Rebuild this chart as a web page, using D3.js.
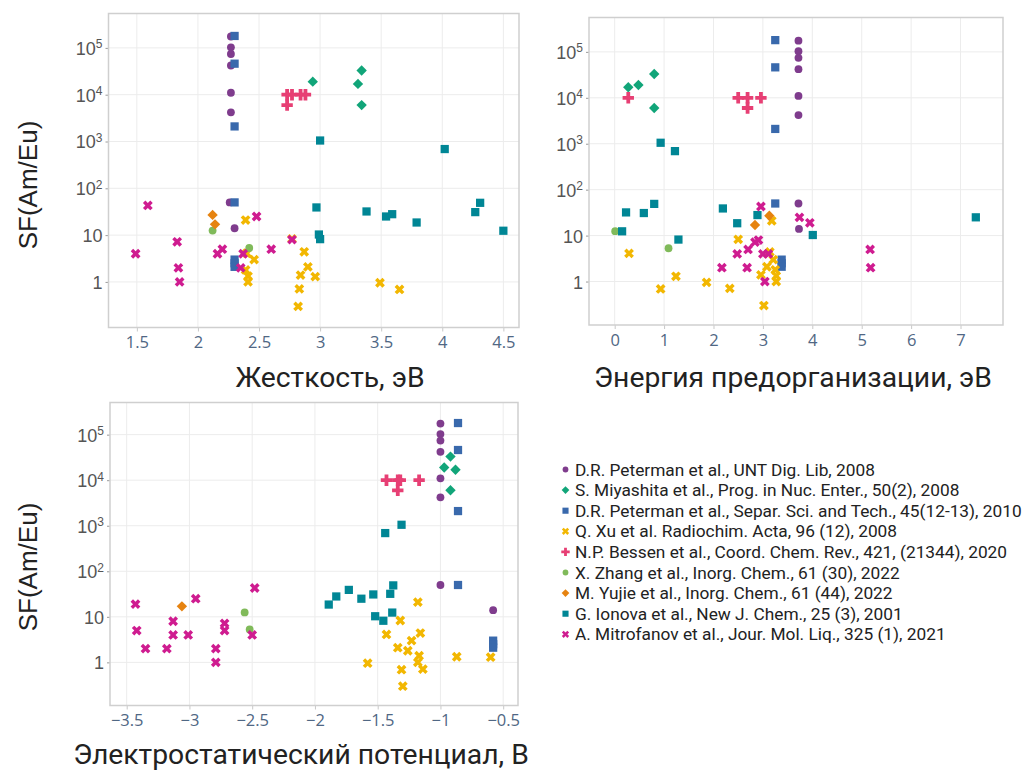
<!DOCTYPE html>
<html><head><meta charset="utf-8">
<script src="https://cdn.jsdelivr.net/npm/d3@7"></script>
<style>
body{margin:0;background:#fff}
svg{display:block}
</style>
</head><body>
<svg id="fig" width="1026" height="771"></svg>
<script>
// ---- series (one per literature source) ----
const seriesNames = [
  "D.R. Peterman et al., UNT Dig. Lib, 2008",
  "S. Miyashita et al., Prog. in Nuc. Enter., 50(2), 2008",
  "D.R. Peterman et al., Separ. Sci. and Tech., 45(12-13), 2010",
  "Q. Xu et al. Radiochim. Acta, 96 (12), 2008",
  "N.P. Bessen et al., Coord. Chem. Rev., 421, (21344), 2020",
  "X. Zhang et al., Inorg. Chem., 61 (30), 2022",
  "M. Yujie et al., Inorg. Chem., 61 (44), 2022",
  "G. Ionova et al., New J. Chem., 25 (3), 2001",
  "A. Mitrofanov et al., Jour. Mol. Liq., 325 (1), 2021"
];
const seriesColors = [
  "rgb(127,60,141)", "rgb(17,165,121)", "rgb(57,105,172)",
  "rgb(242,183,1)", "rgb(231,63,116)", "rgb(128,186,90)",
  "rgb(230,131,16)", "rgb(0,134,149)", "rgb(207,28,144)"
];
const seriesSymbols = ["circle","diamond","square","x","cross","circle","diamond","square","x"];

// rows: [SF(Am/Eu), hardness eV, preorganisation energy eV, electrostatic potential V]
const peterman2008 = [
  [1.75e5, 2.27, 3.72, -1.0], [1.03e5, 2.27, 3.72, -1.0], [7.4e4, 2.27, 3.72, -1.0],
  [4.2e4, 2.27, 3.72, -1.0], [1.1e4, 2.27, 3.72, -1.0], [4.2e3, 2.27, 3.72, -1.0],
  [50, 2.26, 3.72, -1.0], [14, 2.30, 3.73, -0.58]
];
const miyashita2008 = [
  [1.9e4, 2.94, 0.48, -0.97], [3.3e4, 3.34, 0.80, -0.92],
  [1.7e4, 3.31, 0.275, -0.88], [6.0e3, 3.34, 0.80, -0.92]
];
const peterman2010 = [
  [1.8e5, 2.30, 3.25, -0.86], [4.6e4, 2.30, 3.25, -0.86], [2.1e3, 2.30, 3.25, -0.86],
  [50, 2.30, 3.25, -0.86], [3.0, 2.30, 3.38, -0.58], [2.5, 2.30, 3.38, -0.58],
  [2.1, 2.30, 3.38, -0.58]
];
const xu2008 = [
  [21, 2.39, 3.18, -1.18], [8.3, 2.77, 2.50, -1.32], [4.4, 2.87, 3.14, -1.16],
  [4.1, 2.40, 0.29, -1.43], [3.0, 2.46, 3.21, -1.23], [2.1, 2.90, 3.08, -1.34],
  [1.8, 2.39, 3.25, -1.26], [1.4, 2.84, 2.96, -1.17], [1.33, 2.41, 3.27, -0.87],
  [1.3, 2.96, 1.24, -0.60], [1.0, 2.41, 3.27, -1.18], [0.96, 3.49, 1.86, -1.58],
  [0.71, 2.83, 2.33, -1.14], [0.69, 3.65, 0.93, -1.31], [0.30, 2.82, 3.02, -1.30]
];
const bessen2020 = [
  [1.0e4, 2.73, 0.275, -1.43], [1.0e4, 2.77, 2.50, -1.34], [1.0e4, 2.84, 2.69, -1.32],
  [1.0e4, 2.88, 2.96, -1.17], [6.0e3, 2.73, 2.69, -1.34]
];
const zhang2022 = [
  [12.5, 2.12, 0.01, -2.56], [5.3, 2.42, 1.09, -2.52]
];
const yujie2022 = [
  [27, 2.12, 3.13, null], [17, 2.14, 2.84, -3.06]
];
const ionova2001 = [
  [1.05e3, 3.00, 0.93, -1.31], [690, 4.02, 1.22, -1.44], [39, 2.97, 2.19, -1.73],
  [32, 3.38, 0.23, -1.40], [25, 3.54, 7.31, -1.63], [28, 3.59, 2.89, -1.83],
  [18.6, 3.79, 2.48, -1.89], [31, 4.27, 0.59, -1.535], [49, 4.31, 0.80, -1.376],
  [12.4, 4.50, 0.15, -1.384], [10.3, 2.99, 4.01, -1.52], [8.2, 3.00, 1.29, -1.455]
];
const mitrofanov2021 = [
  [43, 1.59, 2.96, -2.48], [25, 2.48, 3.74, -2.95], [19, null, 3.95, -3.43],
  [8.0, 2.77, 2.91, -3.13], [7.2, 1.83, 2.84, -2.72], [5.0, 2.20, 2.70, -3.42],
  [5.0, 2.60, 5.17, -2.72], [4.0, 1.49, 2.48, -3.13], [4.0, 2.16, 3.00, -3.01],
  [4.0, 2.37, 3.11, -2.50], [2.0, 1.84, 2.17, -3.35], [2.0, 2.35, 2.68, -3.18],
  [2.0, null, 5.18, -2.79], [1.0, 1.85, 3.04, -2.79]
];
const seriesData = [peterman2008, miyashita2008, peterman2010, xu2008, bessen2020,
                    zhang2022, yujie2022, ionova2001, mitrofanov2021];

// ---- ticks ----
const sfTicks = [1, 10, 100, 1e3, 1e4, 1e5];
const hardnessTicks = [1.5, 2, 2.5, 3, 3.5, 4, 4.5];
const preorgTicks = [0, 1, 2, 3, 4, 5, 6, 7];
const espTicks = [-3.5, -3, -2.5, -2, -1.5, -1, -0.5];

// ---- panel layout ----
const panels = [
  { col: 1, box: [108.5, 13.5, 519, 327.5], xDomain: [1.268, 4.628], yDomain: [10 ** -0.974, 10 ** 5.735],
    xTicks: hardnessTicks, title: "Жесткость, эВ", titlePos: [330, 387], yLabel: [28, 185] },
  { col: 2, box: [589, 17.5, 1003, 325], xDomain: [-0.52, 7.86], yDomain: [10 ** -0.946, 10 ** 5.748],
    xTicks: preorgTicks, title: "Энергия предорганизации, эВ", titlePos: [793, 387], yLabel: null },
  { col: 3, box: [110, 402.5, 518, 705.5], xDomain: [-3.633, -0.382], yDomain: [10 ** -0.947, 10 ** 5.706],
    xTicks: espTicks, title: "Электростатический потенциал, В", titlePos: [301, 764], yLabel: [28, 567] }
];

const svg = d3.select("#fig");

function symbolPath(kind, k) {
  const s = k || 1;
  switch (kind) {
    case "circle":  return { d: d3.symbol(d3.symbolCircle, 48 * s)(), rot: 0 };
    case "square":  return { d: d3.symbol(d3.symbolSquare, 68 * s)(), rot: 0 };
    case "diamond": return { d: d3.symbol(d3.symbolSquare, 54 * s)(), rot: 45 };
    case "x":       return { d: d3.symbol(d3.symbolCross, 60 * s)(), rot: 45 };
    case "cross":   return { d: d3.symbol(d3.symbolCross, 72 * s)(), rot: 0 };
  }
}

const fmtMinus = v => (v < 0 ? "\u2212" + Math.abs(v) : String(v));

panels.forEach(p => {
  const [x0, y0, x1, y1] = p.box;
  const x = d3.scaleLinear().domain(p.xDomain).range([x0, x1]);
  const y = d3.scaleLog().domain(p.yDomain).range([y1, y0]);
  const g = svg.append("g");

  // grid
  g.append("g").selectAll("line").data(p.xTicks).join("line")
    .attr("x1", d => x(d)).attr("x2", d => x(d)).attr("y1", y0).attr("y2", y1)
    .attr("stroke", "#ececec").attr("stroke-width", 1);
  g.append("g").selectAll("line").data(sfTicks).join("line")
    .attr("x1", x0).attr("x2", x1).attr("y1", d => y(d)).attr("y2", d => y(d))
    .attr("stroke", "#ececec").attr("stroke-width", 1);

  // x axis
  const xAxis = d3.axisBottom(x).tickValues(p.xTicks).tickSize(4).tickSizeOuter(0).tickPadding(5)
    .tickFormat(fmtMinus);
  const xa = g.append("g").attr("transform", `translate(0,${y1})`).call(xAxis);
  xa.select(".domain").remove();
  xa.selectAll(".tick line").attr("stroke", "#c8c8c8");
  xa.selectAll(".tick text").attr("fill", "#506784")
    .style("font", "16.5px 'Open Sans', sans-serif");

  // y axis
  const yAxis = d3.axisLeft(y).tickValues(sfTicks).tickSize(3).tickSizeOuter(0).tickPadding(3)
    .tickFormat(() => "");
  const ya = g.append("g").attr("transform", `translate(${x0},0)`).call(yAxis);
  ya.select(".domain").remove();
  ya.selectAll(".tick line").attr("stroke", "#9a9a9a");
  ya.selectAll(".tick text").each(function (d) {
    const t = d3.select(this).attr("fill", "#555").attr("dy", "0.36em")
      .style("font", "18px 'Liberation Sans', Arial, sans-serif");
    const e = Math.round(Math.log10(d));
    if (e < 2) {
      t.text(String(d));
    } else {
      t.append("tspan").text("10");
      t.append("tspan").attr("dy", "-0.55em").style("font-size", "12px").text(String(e));
    }
  });

  // frame
  g.append("rect").attr("x", x0).attr("y", y0).attr("width", x1 - x0).attr("height", y1 - y0)
    .attr("fill", "none").attr("stroke", "#cfcfcf").attr("stroke-width", 1.5);

  // markers
  const col = p.col;
  seriesData.forEach((rows, si) => {
    const sym = symbolPath(seriesSymbols[si]);
    g.append("g").selectAll("path")
      .data(rows.filter(r => r[col] !== null))
      .join("path")
      .attr("d", sym.d)
      .attr("transform", r => `translate(${x(r[col])},${y(r[0])}) rotate(${sym.rot})`)
      .attr("fill", seriesColors[si]);
  });

  // titles
  svg.append("text").attr("x", p.titlePos[0]).attr("y", p.titlePos[1])
    .attr("text-anchor", "middle").attr("fill", "#222")
    .style("font", "28.3px Roboto, sans-serif").text(p.title);
  if (p.yLabel) {
    svg.append("text")
      .attr("transform", `translate(${p.yLabel[0]},${p.yLabel[1]}) rotate(-90)`)
      .attr("text-anchor", "middle").attr("dominant-baseline", "central").attr("fill", "#222")
      .style("font", "26px 'Liberation Sans', Arial, sans-serif").text("SF(Am/Eu)");
  }
});

// ---- legend ----
const legend = svg.append("g");
const rowY = d3.scaleLinear().domain([0, seriesNames.length - 1]).range([469.5, 634.3]);
seriesNames.forEach((name, i) => {
  const sym = symbolPath(seriesSymbols[i], 0.55);
  legend.append("path").attr("d", sym.d)
    .attr("transform", `translate(565.5,${rowY(i)}) rotate(${sym.rot})`)
    .attr("fill", seriesColors[i]);
  legend.append("text").attr("x", 575).attr("y", rowY(i)).attr("dy", "0.35em")
    .attr("fill", "#222").style("font", "17.3px Roboto, sans-serif").text(name);
});
</script>
</body></html>
